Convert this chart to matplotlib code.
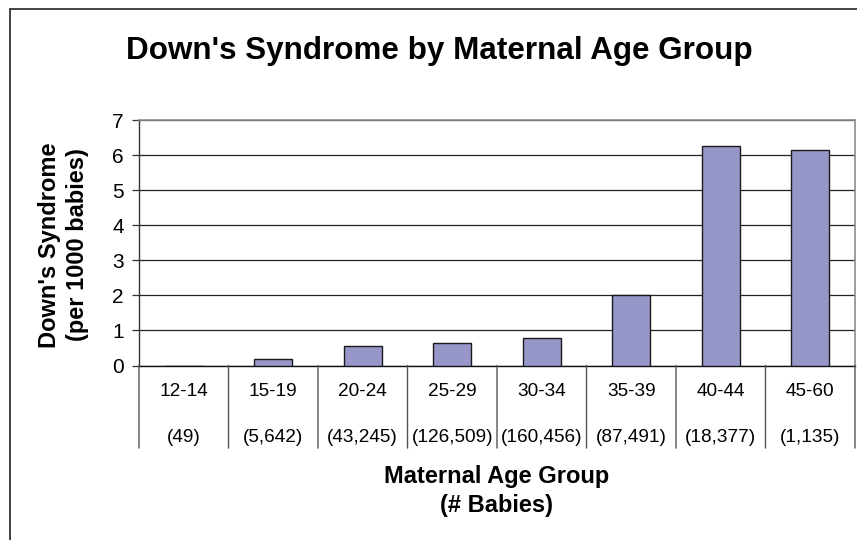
import matplotlib
matplotlib.use('Agg')
import matplotlib.pyplot as plt
from matplotlib.patches import Rectangle

age_groups = ['12-14', '15-19', '20-24', '25-29', '30-34', '35-39', '40-44', '45-60']
n_babies = ['(49)', '(5,642)', '(43,245)', '(126,509)', '(160,456)', '(87,491)', '(18,377)', '(1,135)']
rate_per_1000 = [0.0, 0.18, 0.56, 0.64, 0.78, 2.01, 6.27, 6.15]

plt.rcParams['font.family'] = ['Liberation Sans', 'DejaVu Sans']

W, H = 857, 540
fig = plt.figure(figsize=(W / 100, H / 100), dpi=100)
ax = fig.add_axes([139 / W, 1 - 365.5 / H, 716 / W, 245.5 / H])

x = list(range(len(age_groups)))
ax.bar(x, rate_per_1000, width=0.42, color='#9696c8', edgecolor='#1a1a1a', linewidth=1.0, zorder=3)

ax.set_xlim(-0.5, len(age_groups) - 0.5)
ax.set_ylim(0, 7)
ax.set_yticks(range(0, 8))
ax.tick_params(axis='y', direction='out', length=5, width=0.9, pad=6, labelsize=15, color='#333333')
ax.set_xticks([])
ax.yaxis.grid(True, color='#222222', linewidth=0.9, zorder=0)
ax.set_axisbelow(True)

for s in ['top', 'right']:
    ax.spines[s].set_color('#8c8c8c')
    ax.spines[s].set_linewidth(1.2)
ax.spines['left'].set_color('#333333')
ax.spines['left'].set_linewidth(1.0)
ax.spines['bottom'].set_color('#111111')
ax.spines['bottom'].set_linewidth(1.0)

# category separators below the axis
for b in range(len(age_groups) + 1):
    ax.annotate('', xy=(b - 0.5, 0), xycoords=('data', 'axes fraction'),
                xytext=(b - 0.5, -59.5), textcoords=('data', 'offset points'),
                arrowprops=dict(arrowstyle='-', color='#555555', lw=1.0,
                                shrinkA=0, shrinkB=0))

for i, (g, n) in enumerate(zip(age_groups, n_babies)):
    ax.annotate(g, xy=(i, 0), xycoords=('data', 'axes fraction'),
                xytext=(0, -19), textcoords='offset points',
                ha='center', va='center', fontsize=13.7)
    ax.annotate(n, xy=(i, 0), xycoords=('data', 'axes fraction'),
                xytext=(0, -51.5), textcoords='offset points',
                ha='center', va='center', fontsize=13.7)

fig.text(439.5 / W, 1 - 51 / H, "Down's Syndrome by Maternal Age Group",
         ha='center', va='center', fontsize=22.6, fontweight='bold')
fig.text(63.5 / W, 1 - 245 / H, "Down's Syndrome\n(per 1000 babies)",
         ha='center', va='center', rotation=90, fontsize=17,
         fontweight='bold', linespacing=1.3)
fig.text(497 / W, 1 - 491 / H, "Maternal Age Group\n(# Babies)",
         ha='center', va='center', fontsize=17, fontweight='bold',
         linespacing=1.35)

fig.patches.append(Rectangle((10 / W, -0.05), 1.2, 1 - 9 / H + 0.05,
                             transform=fig.transFigure, fill=False,
                             edgecolor='#333333', linewidth=1.3))

fig.savefig('out.png', dpi=100)
